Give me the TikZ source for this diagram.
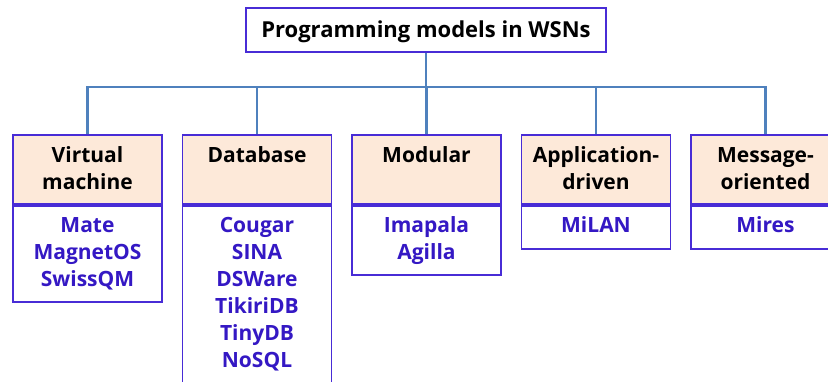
\documentclass[tikz,border=0pt]{standalone}
\usepackage{fontspec}
\setmainfont{Open Sans}
\definecolor{bord}{RGB}{72,44,214}
\definecolor{conn}{RGB}{79,129,189}
\definecolor{peach}{RGB}{253,233,217}
\definecolor{itemc}{RGB}{52,24,196}
\tikzset{
  hdrbox/.style={draw=bord, line width=1.9pt, fill=peach, minimum width=149pt, minimum height=69pt, inner sep=0pt},
  bodybox/.style={draw=bord, line width=1.9pt, fill=white, minimum width=149pt, inner sep=0pt, anchor=north},
  titlebox/.style={draw=bord, line width=1.9pt, fill=white, minimum width=360pt, minimum height=44pt, inner sep=0pt},
  hdrtxt/.style={font=\fontsize{21}{27}\selectfont\bfseries, text=black, align=center, anchor=base, inner sep=0pt},
  itemtxt/.style={font=\fontsize{21}{27}\selectfont\bfseries, text=itemc, align=center, anchor=base, inner sep=0pt},
  connl/.style={draw=conn, line width=2.2pt},
}
\begin{document}
\begin{tikzpicture}[x=1pt,y=-1pt]
\useasboundingbox (0,0) rectangle (828,381);
\clip (0,0) rectangle (828,381);
\node[titlebox] (title) at (426,30) {};
\node[font=\fontsize{22}{26}\selectfont\bfseries, anchor=base, inner sep=0pt] (tt) at (426,37.5) {Programming models in WSNs};
\coordinate (bus) at (426,87);
% headers
\node[hdrbox] (h1) at (87.5,169.5) {};
\node[hdrbox] (h2) at (257,169.5) {};
\node[hdrbox] (h3) at (426.5,169.5) {};
\node[hdrbox] (h4) at (596,169.5) {};
\node[hdrbox] (h5) at (765.5,169.5) {};
% bodies
\node[bodybox, minimum height=96pt] (b1) at (h1.south) {};
\node[bodybox, minimum height=185pt] (b2) at (h2.south) {};
\node[bodybox, minimum height=69pt] (b3) at (h3.south) {};
\node[bodybox, minimum height=43pt] (b4) at (h4.south) {};
\node[bodybox, minimum height=43pt] (b5) at (h5.south) {};
% header texts (anchor base = last line baseline)
\node[hdrtxt] (t1) at (87.5,189) {Virtual\\machine};
\node[hdrtxt] (t2) at (257,162) {Database};
\node[hdrtxt] (t3) at (426.5,162) {Modular};
\node[hdrtxt] (t4) at (596,189) {Application-\\driven};
\node[hdrtxt] (t5) at (765.5,189) {Message-\\oriented};
% item texts
\node[itemtxt] (i1) at (87.5,286) {Mate\\MagnetOS\\SwissQM};
\node[itemtxt] (i2) at (257,367) {Cougar\\SINA\\DSWare\\TikiriDB\\TinyDB\\NoSQL};
\node[itemtxt] (i3) at (426.5,259) {Imapala\\Agilla};
\node[itemtxt] (i4) at (596,232) {MiLAN};
\node[itemtxt] (i5) at (765.5,232) {Mires};
% connectors
\draw[connl] (title.south) -- (title.south |- bus);
\draw[connl] (h1.north) -- (h1.north |- bus) -| (h5.north);
\draw[connl] (h2.north) -- (h2.north |- bus);
\draw[connl] (h3.north) -- (h3.north |- bus);
\draw[connl] (h4.north) -- (h4.north |- bus);
\end{tikzpicture}
\end{document}
